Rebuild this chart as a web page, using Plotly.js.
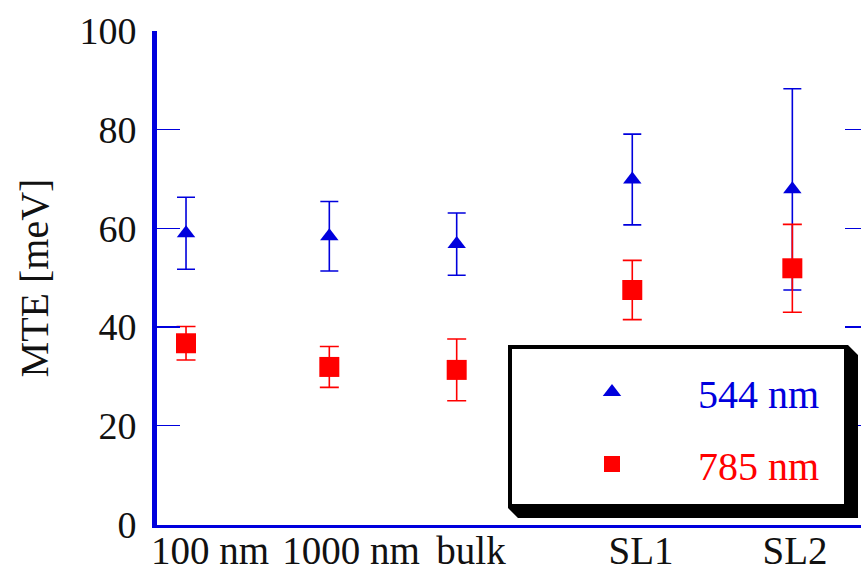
<!DOCTYPE html>
<html><head><meta charset="utf-8">
<script src="https://cdn.plot.ly/plotly-3.0.1.min.js"></script>
<style>html,body{margin:0;padding:0;overflow:hidden;background:#fff}</style>
</head><body><div id="chart" style="width:880px;height:571px"></div>
<script>
// ---- data ----
const categories = ['100 nm', '1000 nm', 'bulk', 'SL1', 'SL2'];
const xPos = [0.329, 1.723, 2.962, 4.670, 6.227];
const labelPos = [0.562, 1.934, 3.101, 4.755, 6.253];
const mte544 = [59.0, 58.4, 56.8, 69.9, 67.9];
const err544 = [7.3, 7.05, 6.3, 9.2, 20.4];
const mte785 = [36.7, 31.9, 31.3, 47.5, 51.9];
const err785 = [3.4, 4.15, 6.25, 6.0, 8.9];
const seriesNames = ['544 nm', '785 nm'];
const yTicks = [0, 20, 40, 60, 80, 100];
const xTickMarks = [1, 2, 3, 4, 5, 6];

// ---- styling ----
const BLUE = '#0000dd', RED = '#ff0000';
const FONT = 'Liberation Serif, Times New Roman, serif';
const W = 880, H = 571, L = 157, R = 868, T = 31, B = 525;
const PW = R - L, PH = B - T;
const px = v => (v - L) / PW;
const py = v => 1 - (v - T) / PH;
const xRange = [0.0467, 6.963];
const yRange = [-0.14, 100];

const traces = [
  {
    x: xPos, y: mte544, type: 'scatter', mode: 'markers', name: '<span style="color:' + BLUE + '">' + seriesNames[0] + '</span>',
    legendgroup: 'a',
    marker: {symbol: 'triangle-up', size: 16, color: BLUE},
    error_y: {type: 'data', array: err544, visible: true, color: BLUE, thickness: 1.6, width: 9}
  },
  {
    x: xPos, y: mte785, type: 'scatter', mode: 'markers', name: '<span style="color:' + RED + '">' + seriesNames[1] + '</span>',
    legendgroup: 'b',
    marker: {symbol: 'square', size: 20, color: RED},
    error_y: {type: 'data', array: err785, visible: true, color: RED, thickness: 1.6, width: 9.5}
  }
];

// legend box (drawn with shapes), pixel coords
const bx0 = 508, bx1 = 848, by0 = 345, by1 = 508, sh = 10;
const shadowPath = 'M' + px(bx1) + ',' + py(by0) + ' L' + px(bx1 + sh) + ',' + py(by0 + sh) +
  ' L' + px(bx1 + sh) + ',' + py(by1 + sh) + ' L' + px(bx0 + sh) + ',' + py(by1 + sh) +
  ' L' + px(bx0) + ',' + py(by1) + ' L' + px(bx1) + ',' + py(by1) + ' Z';

const layout = {
  width: W, height: H,
  margin: {l: L, r: W - R, t: T, b: H - B},
  paper_bgcolor: '#fff', plot_bgcolor: '#fff',
  showlegend: true,
  font: {family: FONT, size: 38, color: '#111'},
  xaxis: {
    range: xRange, showgrid: false, zeroline: false,
    showline: true, linecolor: BLUE, linewidth: 3,
    tickmode: 'array', tickvals: labelPos, ticktext: categories, ticks: '',
    tickfont: {family: FONT, size: 39, color: '#111'},
    ticklabelstandoff: -11
  },
  xaxis2: {
    overlaying: 'x', anchor: 'y', side: 'bottom', range: xRange,
    showgrid: false, zeroline: false, showline: false,
    tickmode: 'array', tickvals: xTickMarks, ticks: 'inside', ticklen: 24, tickwidth: 1.6, tickcolor: BLUE,
    showticklabels: false
  },
  xaxis3: {
    overlaying: 'x', anchor: 'y', side: 'top', range: xRange,
    showgrid: false, zeroline: false, showline: true, linecolor: BLUE, linewidth: 5,
    tickmode: 'array', tickvals: xTickMarks, ticks: 'inside', ticklen: 24, tickwidth: 1.6, tickcolor: BLUE,
    showticklabels: false
  },
  yaxis: {
    range: yRange, showgrid: false, zeroline: false,
    showline: true, linecolor: BLUE, linewidth: 5, mirror: 'ticks',
    tickmode: 'array', tickvals: yTicks, ticks: 'inside', ticklen: 23, tickwidth: 1.6, tickcolor: BLUE,
    tickfont: {family: FONT, size: 38, color: '#111'},
    ticklabelstandoff: 8,
    title: {text: 'MTE [meV]', font: {family: FONT, size: 40, color: '#111'}, standoff: 20}
  },
  legend: {
    x: px(526), y: py(359.5), xanchor: 'left', yanchor: 'top',
    bgcolor: 'rgba(0,0,0,0)', borderwidth: 0,
    itemwidth: 162, traceorder: 'grouped', tracegroupgap: 17,
    font: {family: FONT, size: 40}
  },
  shapes: [
    {type: 'path', xref: 'paper', yref: 'paper', path: shadowPath, fillcolor: '#000', line: {width: 0}, layer: 'above'},
    {type: 'rect', xref: 'paper', yref: 'paper', x0: px(bx0 + 2), x1: px(bx1 - 2), y0: py(by0 + 2), y1: py(by1 - 2),
     fillcolor: '#fff', line: {color: '#000', width: 4}, layer: 'above'}
  ]
};

Plotly.newPlot('chart', traces, layout, {displayModeBar: false, staticPlot: true});
</script>
</body></html>
